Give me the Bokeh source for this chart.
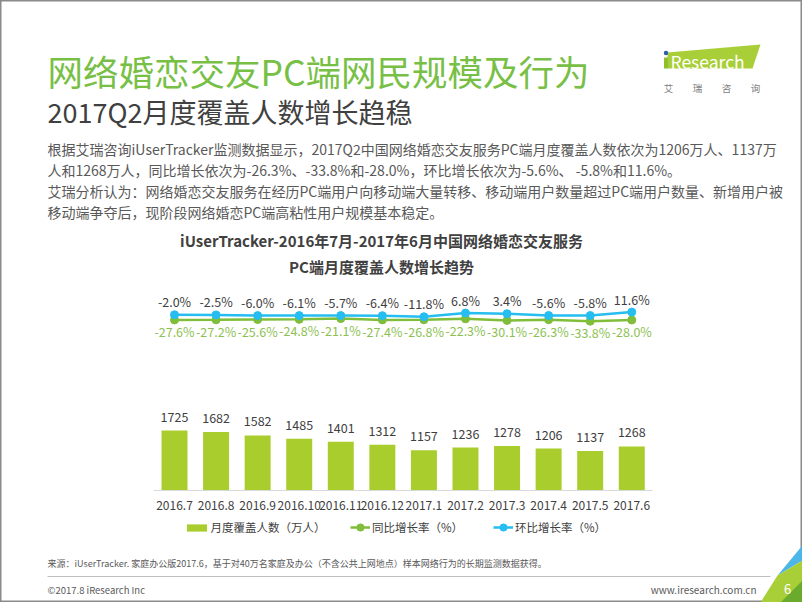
from bokeh.plotting import figure
from bokeh.models import Range1d, ColumnDataSource, Legend, LegendItem
from bokeh.core.properties import value
from bokeh.embed import file_html
from bokeh.resources import INLINE

# ---------------- data ----------------
months = ["2016.7", "2016.8", "2016.9", "2016.10", "2016.11", "2016.12",
          "2017.1", "2017.2", "2017.3", "2017.4", "2017.5", "2017.6"]
users = [1725, 1682, 1582, 1485, 1401, 1312, 1157, 1236, 1278, 1206, 1137, 1268]
yoy = [-27.6, -27.2, -25.6, -24.8, -21.1, -27.4, -26.8, -22.3, -30.1, -26.3, -33.8, -28.0]
mom = [-2.0, -2.5, -6.0, -6.1, -5.7, -6.4, -11.8, 6.8, 3.4, -5.6, -5.8, 11.6]

title = "网络婚恋交友PC端网民规模及行为"
subtitle = "2017Q2月度覆盖人数增长趋稳"
paragraph = [
    "根据艾瑞咨询iUserTracker监测数据显示，2017Q2中国网络婚恋交友服务PC端月度覆盖人数依次为1206万人、1137万",
    "人和1268万人，同比增长依次为-26.3%、-33.8%和-28.0%，环比增长依次为-5.6%、 -5.8%和11.6%。",
    "艾瑞分析认为：网络婚恋交友服务在经历PC端用户向移动端大量转移、移动端用户数量超过PC端用户数量、新增用户被",
    "移动端争夺后，现阶段网络婚恋PC端高粘性用户规模基本稳定。",
]
chart_title = ["iUserTracker-2016年7月-2017年6月中国网络婚恋交友服务",
               "PC端月度覆盖人数增长趋势"]
legend_labels = ["月度覆盖人数（万人）", "同比增长率（%）", "环比增长率（%）"]
source_note = "来源：iUserTracker. 家庭办公版2017.6，基于对40万名家庭及办公（不含公共上网地点）样本网络行为的长期监测数据获得。"
copyright_note = "©2017.8 iResearch Inc"
website = "www.iresearch.com.cn"
page_no = "6"
logo_word = "Research"
logo_cn = ["艾", "瑞", "咨", "询"]

# ---------------- styles ----------------
FONT_NAME = "Noto Sans CJK SC"
FONT = value(FONT_NAME)
GREEN_TITLE = "#78bf46"
BAR = "#a8cd2d"
GREEN = "#80bd3b"
GREEN_TXT = "#8cc152"
BLUE = "#26bdf0"
DARK = "#404040"
GREY = "#595959"

W, H = 802, 602
p = figure(width=W, height=H, x_range=Range1d(0, W), y_range=Range1d(H, 0),
           output_backend="svg", toolbar_location=None,
           x_axis_location=None, y_axis_location=None, min_border=0,
           background_fill_color="white", border_fill_color="white",
           outline_line_color="#8a8a8a", outline_line_width=2)
p.grid.visible = False


def txt(x, y, s, size, color, align="left", style="normal"):
    p.text(x=[x], y=[y], text=[s], text_font=FONT, text_font_size=f"{size}px",
           text_color=color, text_align=align, text_baseline="middle",
           text_font_style=style)


# ---------------- header ----------------
txt(47, 70, title, 35.5, GREEN_TITLE)
txt(47, 111, subtitle, 27, DARK)
for i, line in enumerate(paragraph):
    txt(47, 148 + i * 21, line, 14, GREY)
txt(381, 240, chart_title[0], 15, DARK, align="center", style="bold")
txt(381, 266, chart_title[1], 15, DARK, align="center", style="bold")

# logo
p.patch(x=[667, 760, 752, 667], y=[52, 44, 68, 68], color="#a9cf38", line_color=None)
p.quad(left=[663.5], right=[667.5], top=[57], bottom=[68], color="#8fbf2f", line_color=None)
p.scatter(x=[665.5], y=[52.5], size=4.5, color="#2f5fa8", line_color=None)
txt(670, 60.5, logo_word, 17.5, "white")
for i, ch in enumerate(logo_cn):
    txt(668 + i * 29, 87.5, ch, 9.5, "#808080", align="center")

# ---------------- chart ----------------
n = len(months)
idx = list(range(n))
CX0, CDX = 174.0, 41.57          # screen layout of category axis
p.extra_x_ranges = {"m": Range1d((0 - CX0) / CDX, (W - CX0) / CDX)}
BASE, BS = 490.0, 0.03478        # bar axis: baseline px, px per unit
ZERO, PS = 313.9, 0.2            # pct axis: zero px, px per unit
p.extra_y_ranges = {"bar": Range1d((BASE - H) / BS, (BASE - 0) / BS),
                    "pct": Range1d((ZERO - H) / PS, (ZERO - 0) / PS)}

src = ColumnDataSource(dict(
    x=idx, month=months, users=users, yoy=yoy, mom=mom,
    users_lbl=[str(v) for v in users],
    yoy_lbl=[f"{v:.1f}%" for v in yoy],
    mom_lbl=[f"{v:.1f}%" for v in mom],
    zero=[0] * n,
))

bars = p.vbar(x="x", top="users", bottom=0, width=0.625, source=src, color=BAR,
              line_color=None, x_range_name="m", y_range_name="bar")
p.segment(x0=[-0.5], x1=[n - 0.5], y0=[0], y1=[0], line_color="#d9d9d9",
          line_width=1, x_range_name="m", y_range_name="bar")
p.text(x="x", y="users", text="users_lbl", source=src, y_offset=-14,
       text_font=FONT, text_font_size="12.5px", text_color=DARK,
       text_align="center", text_baseline="middle",
       x_range_name="m", y_range_name="bar")
p.text(x="x", y="zero", text="month", source=src, y_offset=15,
       text_font=FONT, text_font_size="12px", text_color=DARK,
       text_align="center", text_baseline="middle",
       x_range_name="m", y_range_name="bar")

g_line = p.line(x="x", y="yoy", source=src, line_color=GREEN, line_width=2.5,
                x_range_name="m", y_range_name="pct")
g_pts = p.scatter(x="x", y="yoy", source=src, size=8, color=GREEN,
                  x_range_name="m", y_range_name="pct")
b_line = p.line(x="x", y="mom", source=src, line_color=BLUE, line_width=2.5,
                x_range_name="m", y_range_name="pct")
b_pts = p.scatter(x="x", y="mom", source=src, size=8, color=BLUE,
                  x_range_name="m", y_range_name="pct")
p.text(x="x", y="mom", text="mom_lbl", source=src, y_offset=-13,
       text_font=FONT, text_font_size="12.5px", text_color=DARK,
       text_align="center", text_baseline="middle",
       x_range_name="m", y_range_name="pct")
p.text(x="x", y="yoy", text="yoy_lbl", source=src, y_offset=11.5,
       text_font=FONT, text_font_size="12.5px", text_color=GREEN_TXT,
       text_align="center", text_baseline="middle",
       x_range_name="m", y_range_name="pct")

# legends
leg_specs = [
    (legend_labels[0], [bars], 183.5, 25, 9),
    (legend_labels[1], [g_line, g_pts], 350, 20, 18),
    (legend_labels[2], [b_line, b_pts], 493, 20, 18),
]
for label, rends, lx, gw, gh in leg_specs:
    leg = Legend(items=[LegendItem(label=label, renderers=rends)],
                 location=(lx, H - 536), orientation="horizontal",
                 glyph_width=gw, glyph_height=gh, label_height=18,
                 label_standoff=2, padding=0, margin=0, spacing=0,
                 border_line_alpha=0, background_fill_alpha=0,
                 label_text_font=FONT_NAME, label_text_font_size="11.5px",
                 label_text_color=DARK)
    p.add_layout(leg, "center")

# ---------------- footer ----------------
txt(47, 563, source_note, 9, GREY)
p.segment(x0=[47], x1=[770], y0=[576], y1=[576], line_color="#bfbfbf", line_width=1)
txt(47, 589, copyright_note, 9.5, GREY)
txt(756, 589, website, 10, GREY, align="right")
p.patch(x=[777, 802, 802], y=[575, 545, 560], color="#4db6e8", line_color=None)
p.patch(x=[760, 777, 802, 802], y=[602, 575, 560, 602], color="#a9cf38", line_color=None)
p.patch(x=[780, 802, 802], y=[602, 580, 602], color="#6aab2e", line_color=None)
txt(787, 588, page_no, 13, "white", align="center")

open("out.html", "w").write(file_html(p, INLINE))
